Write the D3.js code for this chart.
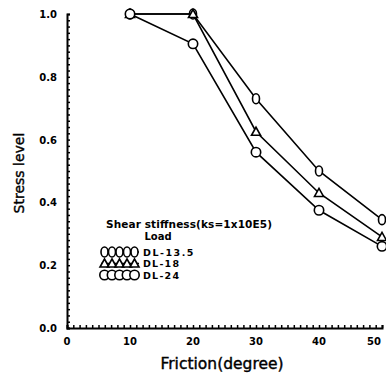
<!DOCTYPE html>
<html>
<head>
<meta charset="utf-8">
<script src="https://cdn.jsdelivr.net/npm/d3@7"></script>
<style>
body { margin: 0; background: #fff; }
svg text { font-family: "DejaVu Sans", sans-serif; font-weight: bold; fill: #000; }
</style>
</head>
<body>
<div id="chart"></div>
<script>
var friction = [10, 20, 30, 40, 50]
var dl135 = [1.0, 1.0, 0.73, 0.50, 0.345]
var dl18 = [1.0, 1.0, 0.625, 0.43, 0.29]
var dl24 = [1.0, 0.905, 0.56, 0.375, 0.26]
var xTicks = [0, 10, 20, 30, 40, 50]
var yTicks = [0.0, 0.2, 0.4, 0.6, 0.8, 1.0]
var legendNames = ["DL-13.5", "DL-18", "DL-24"]

var width = 386, height = 379
var svg = d3.select("#chart").append("svg")
	.attr("width", width)
	.attr("height", height)

var xScale = d3.scaleLinear().domain([0, 50]).range([67, 382])
var yScale = d3.scaleLinear().domain([0, 1]).range([328, 14])

// axes with minor ticks pointing inward
var xMinor = d3.range(0, 50.01, 1)
var yMinor = d3.range(0, 1.001, 0.02)

svg.append("g")
	.attr("transform", "translate(0," + yScale(0) + ")")
	.call(d3.axisTop(xScale).tickValues(xMinor).tickSize(3).tickFormat(""))
	.call(g => g.select(".domain").attr("stroke-width", 2))
	.call(g => g.selectAll(".tick line").attr("stroke-width", 1.5))

svg.append("g")
	.attr("transform", "translate(" + xScale(0) + ",0)")
	.call(d3.axisRight(yScale).tickValues(yMinor).tickSize(3).tickFormat(""))
	.call(g => g.select(".domain").attr("stroke-width", 2))
	.call(g => g.selectAll(".tick line").attr("stroke-width", 1.5))

// tick labels
svg.selectAll(".xlab")
	.data(xTicks)
	.enter()
	.append("text")
	.attr("x", d => Math.min(xScale(d), 374))
	.attr("y", yScale(0) + 17)
	.attr("text-anchor", "middle")
	.style("font-size", "10px")
	.text(d => d)

svg.selectAll(".ylab")
	.data(yTicks)
	.enter()
	.append("text")
	.attr("x", xScale(0) - 10)
	.attr("y", d => yScale(d) + 4)
	.attr("text-anchor", "end")
	.style("font-size", "10px")
	.text(d => d.toFixed(1))

// axis titles
svg.append("text")
	.attr("x", 222)
	.attr("y", 369)
	.attr("text-anchor", "middle")
	.style("font-size", "15.5px")
	.style("font-weight", "normal")
	.style("stroke", "#000")
	.style("stroke-width", 0.4)
	.text("Friction(degree)")

svg.append("text")
	.attr("transform", "translate(24,173) rotate(-90)")
	.attr("text-anchor", "middle")
	.style("font-size", "14px")
	.style("font-weight", "normal")
	.style("stroke", "#000")
	.style("stroke-width", 0.4)
	.text("Stress level")

var series = [dl135, dl18, dl24]
var line = d3.line()
	.x((d, i) => xScale(friction[i]))
	.y(d => yScale(d))

series.forEach(function(s){
	svg.append("path")
		.datum(s)
		.attr("fill", "none")
		.attr("stroke", "#000")
		.attr("stroke-width", 1.6)
		.attr("d", line)
})

function drawMarker(g, k, x, y){
	if(k == 0){
		g.append("ellipse").attr("cx", x).attr("cy", y).attr("rx", 3.5).attr("ry", 5)
			.attr("fill", "#fff").attr("stroke", "#000").attr("stroke-width", 1.6)
	} else if(k == 1){
		g.append("path").attr("d", "M" + x + "," + (y - 4.5) + "L" + (x + 4.5) + "," + (y + 3.5) + "L" + (x - 4.5) + "," + (y + 3.5) + "Z")
			.attr("fill", "#fff").attr("stroke", "#000").attr("stroke-width", 1.6)
	} else {
		g.append("circle").attr("cx", x).attr("cy", y).attr("r", 4.7)
			.attr("fill", "#fff").attr("stroke", "#000").attr("stroke-width", 1.6)
	}
}

var marks = svg.append("g")
series.forEach(function(s, k){
	s.forEach(function(v, i){
		drawMarker(marks, k, xScale(friction[i]), yScale(v))
	})
})

// legend
svg.append("text")
	.attr("x", 106)
	.attr("y", 228)
	.style("font-size", "10.5px")
	.attr("textLength", 166)
	.text("Shear stiffness(ks=1x10E5)")
svg.append("text")
	.attr("x", 158)
	.attr("y", 240)
	.attr("text-anchor", "middle")
	.style("font-size", "10px")
	.text("Load")

var leg = svg.append("g")
legendNames.forEach(function(name, k){
	var ly = 252 + k * 11.5
	leg.append("line").attr("x1", 101).attr("x2", 139).attr("y1", ly).attr("y2", ly)
		.attr("stroke", "#000").attr("stroke-width", 1.5)
	for(var j = 0; j < 5; j++){
		drawMarker(leg, k, 104.5 + j * 7.5, ly)
	}
	leg.append("text")
		.attr("x", 143)
		.attr("y", ly + 3.5)
		.style("font-size", "9.5px")
		.attr("textLength", name.length * 7.2)
		.text(name)
})
</script>
</body>
</html>
